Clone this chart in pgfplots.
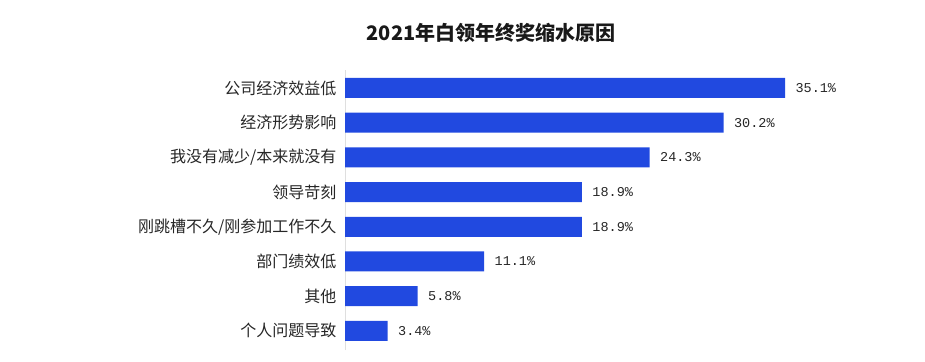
\documentclass[border=0pt]{standalone}
\usepackage{fontspec}
\setmainfont{Noto Sans CJK SC}
\newfontfamily\monof{Liberation Mono}
\usepackage{pgfplots}
\usepackage{pgfplotstable}
\pgfplotsset{compat=1.18}
\definecolor{barblue}{RGB}{33,73,224}
\pgfplotstableread{
idx val
0 3.4
1 5.8
2 11.1
3 18.9
4 18.9
5 24.3
6 30.2
7 35.1
}\data
\begin{document}
\begin{tikzpicture}
\path[use as bounding box] (0,0) rectangle (925pt,361pt);
\node[font=\fontsize{20}{20}\selectfont\bfseries, text=black!90] at (491pt,328pt) {2021年白领年终奖缩水原因};
\begin{axis}[
  at={(345pt,11pt)}, anchor=south west,
  x=12.536pt, y=34.71pt,
  xmin=0, xmax=45, ymin=-0.55, ymax=7.52,
  xbar, bar width=20pt,
  axis x line=none,
  axis y line*=left,
  y axis line style={draw=gray!25, -},
  ytick={0,...,7},
  yticklabels={个人问题导致,其他,部门绩效低,刚跳槽不久/刚参加工作不久,领导苛刻,我没有减少/本来就没有,经济形势影响,公司经济效益低},
  major tick length=0pt,
  yticklabel style={font=\fontsize{16}{16}\selectfont, text=black!85, xshift=-5pt},
  clip=false,
  nodes near coords={\pgfplotspointmeta\%},
  point meta=explicit symbolic,
  nodes near coords style={anchor=west, font=\monof\fontsize{13.5}{14}\selectfont, text=black!85, xshift=7pt},
]
\addplot[draw=none, fill=barblue] table[x=val, y=idx, meta=val] {\data};
\end{axis}
\end{tikzpicture}
\end{document}
